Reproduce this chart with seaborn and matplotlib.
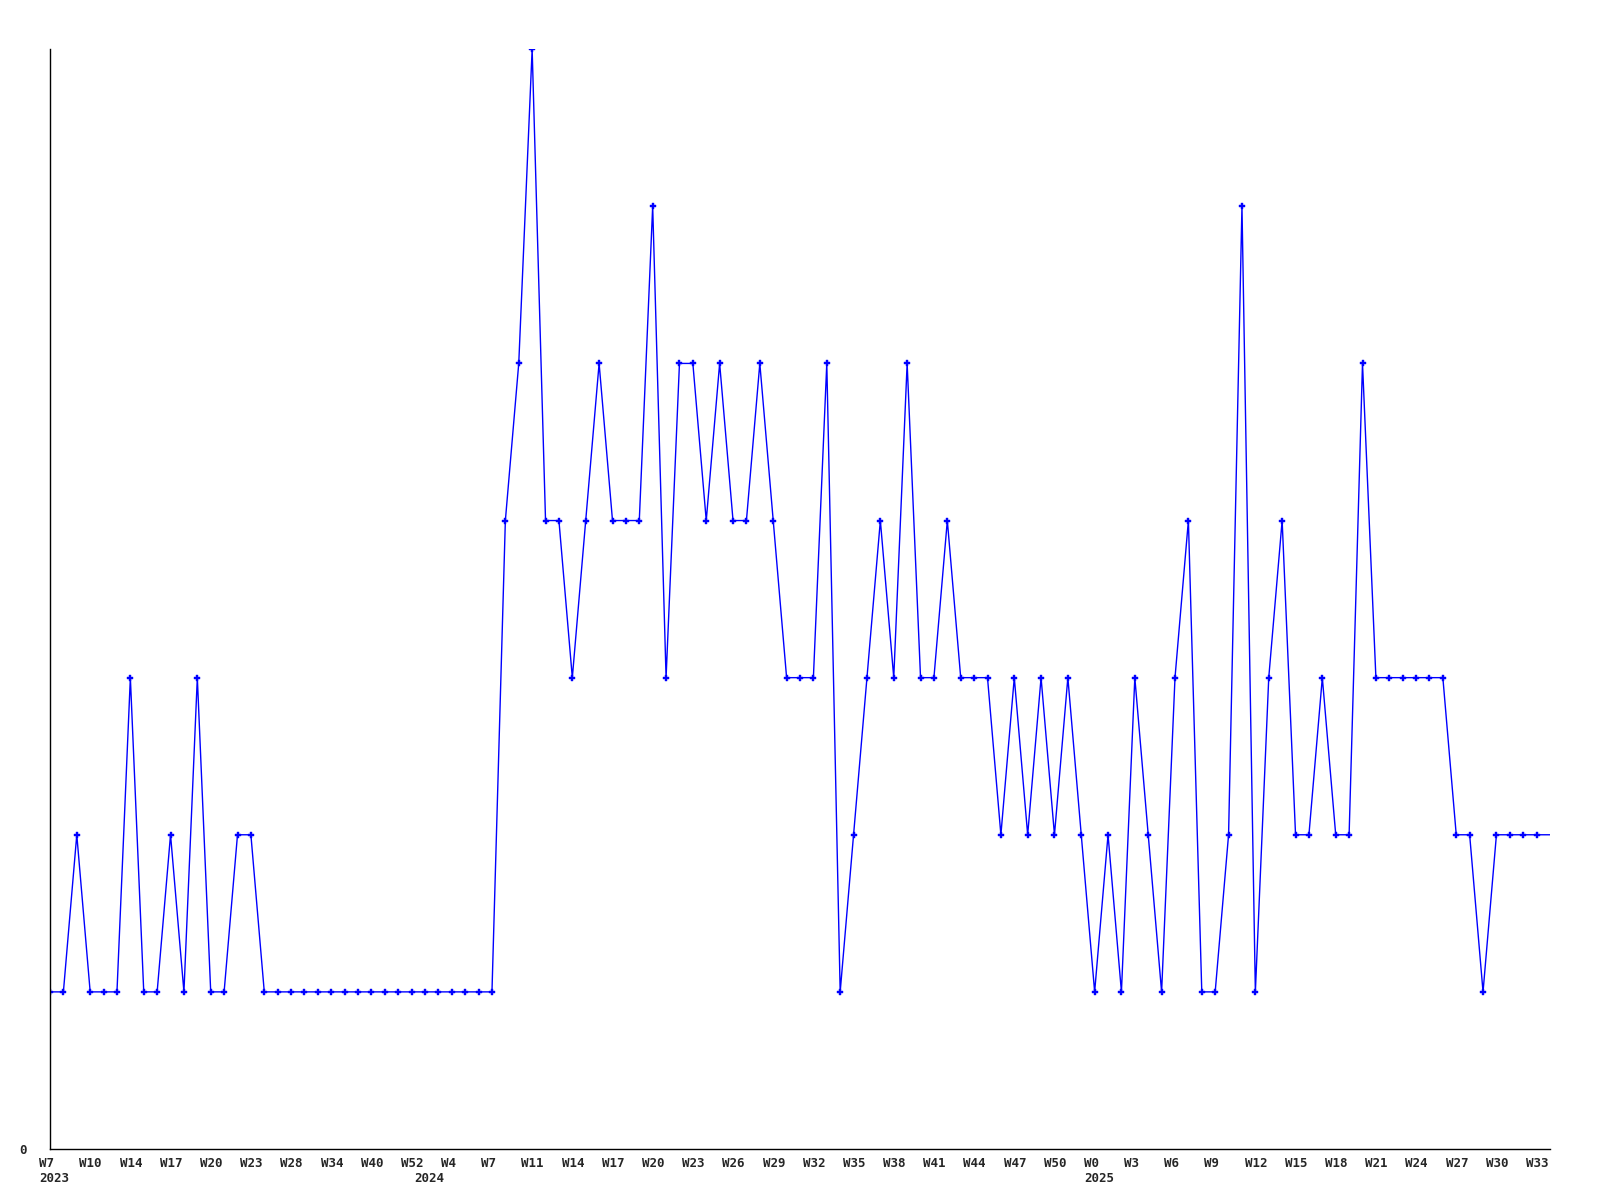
import numpy as np
import matplotlib
matplotlib.use("Agg")
import matplotlib.pyplot as plt
import matplotlib.transforms as mtransforms
import seaborn as sns
import pandas as pd

# weekly counts, one entry per data point (categorical x positions)
values = [
    1, 1, 2, 1, 1, 1, 3, 1, 1, 2, 1, 3, 1, 1, 2, 2,
    1, 1, 1, 1, 1, 1, 1, 1, 1, 1, 1, 1, 1, 1, 1, 1, 1, 1,
    4, 5, 7, 4, 4, 3, 4, 5, 4, 4, 4, 6, 3, 5, 5, 4, 5, 4, 4, 5, 4, 3,
    3, 3, 5, 1, 2, 3, 4, 3, 5, 3, 3, 4, 3, 3, 3, 2, 3, 2, 3, 2, 3, 2,
    1, 2, 1, 3, 2, 1, 3, 4, 1, 1, 2, 6, 1, 3, 4, 2, 2, 3, 2, 2, 5, 3,
    3, 3, 3, 3, 3, 2, 2, 1, 2, 2, 2, 2, 2,
]

# every third point gets a week label
week_labels = [
    "W7", "W10", "W14", "W17", "W20", "W23", "W28", "W34", "W40", "W52",
    "W4", "W7", "W11", "W14", "W17", "W20", "W23", "W26", "W29", "W32",
    "W35", "W38", "W41", "W44", "W47", "W50",
    "W0", "W3", "W6", "W9", "W12", "W15", "W18", "W21", "W24", "W27",
    "W30", "W33",
]
year_labels = ["2023", "2024", "2025"]
year_starts = [0, 28, 78]

df = pd.DataFrame({"idx": np.arange(len(values)), "count": values})

sns.set_style("white")
plt.rcParams["font.family"] = ["DejaVu Sans Mono", "DejaVu Sans"]

fig = plt.figure(figsize=(16, 12), dpi=100)
ax = fig.add_axes([0.03125, 0.0425, 0.9375, 0.9165])

n = len(values)
sns.lineplot(data=df, x="idx", y="count", ax=ax, color="#0000ff",
             linewidth=1.0, marker="P", markersize=4.5,
             markeredgewidth=0.3, markeredgecolor="#0000ff",
             markevery=list(range(n - 1)))

ax.set_xlim(0, n - 1)
ax.set_ylim(0, max(values))
ax.set_xlabel("")
ax.set_ylabel("")

for s in ["top", "right"]:
    ax.spines[s].set_visible(False)
for s in ["left", "bottom"]:
    ax.spines[s].set_color("black")
    ax.spines[s].set_linewidth(1.0)

tick_pos = list(range(0, 3 * len(week_labels), 3))
ax.set_xticks(tick_pos)
ax.set_xticklabels(week_labels, fontsize=9, fontweight="bold", ha="left")
ax.tick_params(axis="x", length=0, pad=6)
shift = mtransforms.ScaledTranslation(-10.7 / 100, 0, fig.dpi_scale_trans)
for lab in ax.get_xticklabels():
    lab.set_transform(lab.get_transform() + shift)

ax.set_yticks([0])
ax.set_yticklabels(["0"], fontsize=9, fontweight="bold")
ax.tick_params(axis="y", length=0, pad=17)

year_tr = ax.get_xaxis_transform() + shift
for lab, pos in zip(year_labels, year_starts):
    ax.text(pos, -0.021, lab, transform=year_tr, ha="left", va="top",
            fontsize=9, fontweight="bold")

ax.grid(False)
fig.savefig("out.png", dpi=100, facecolor="white")
